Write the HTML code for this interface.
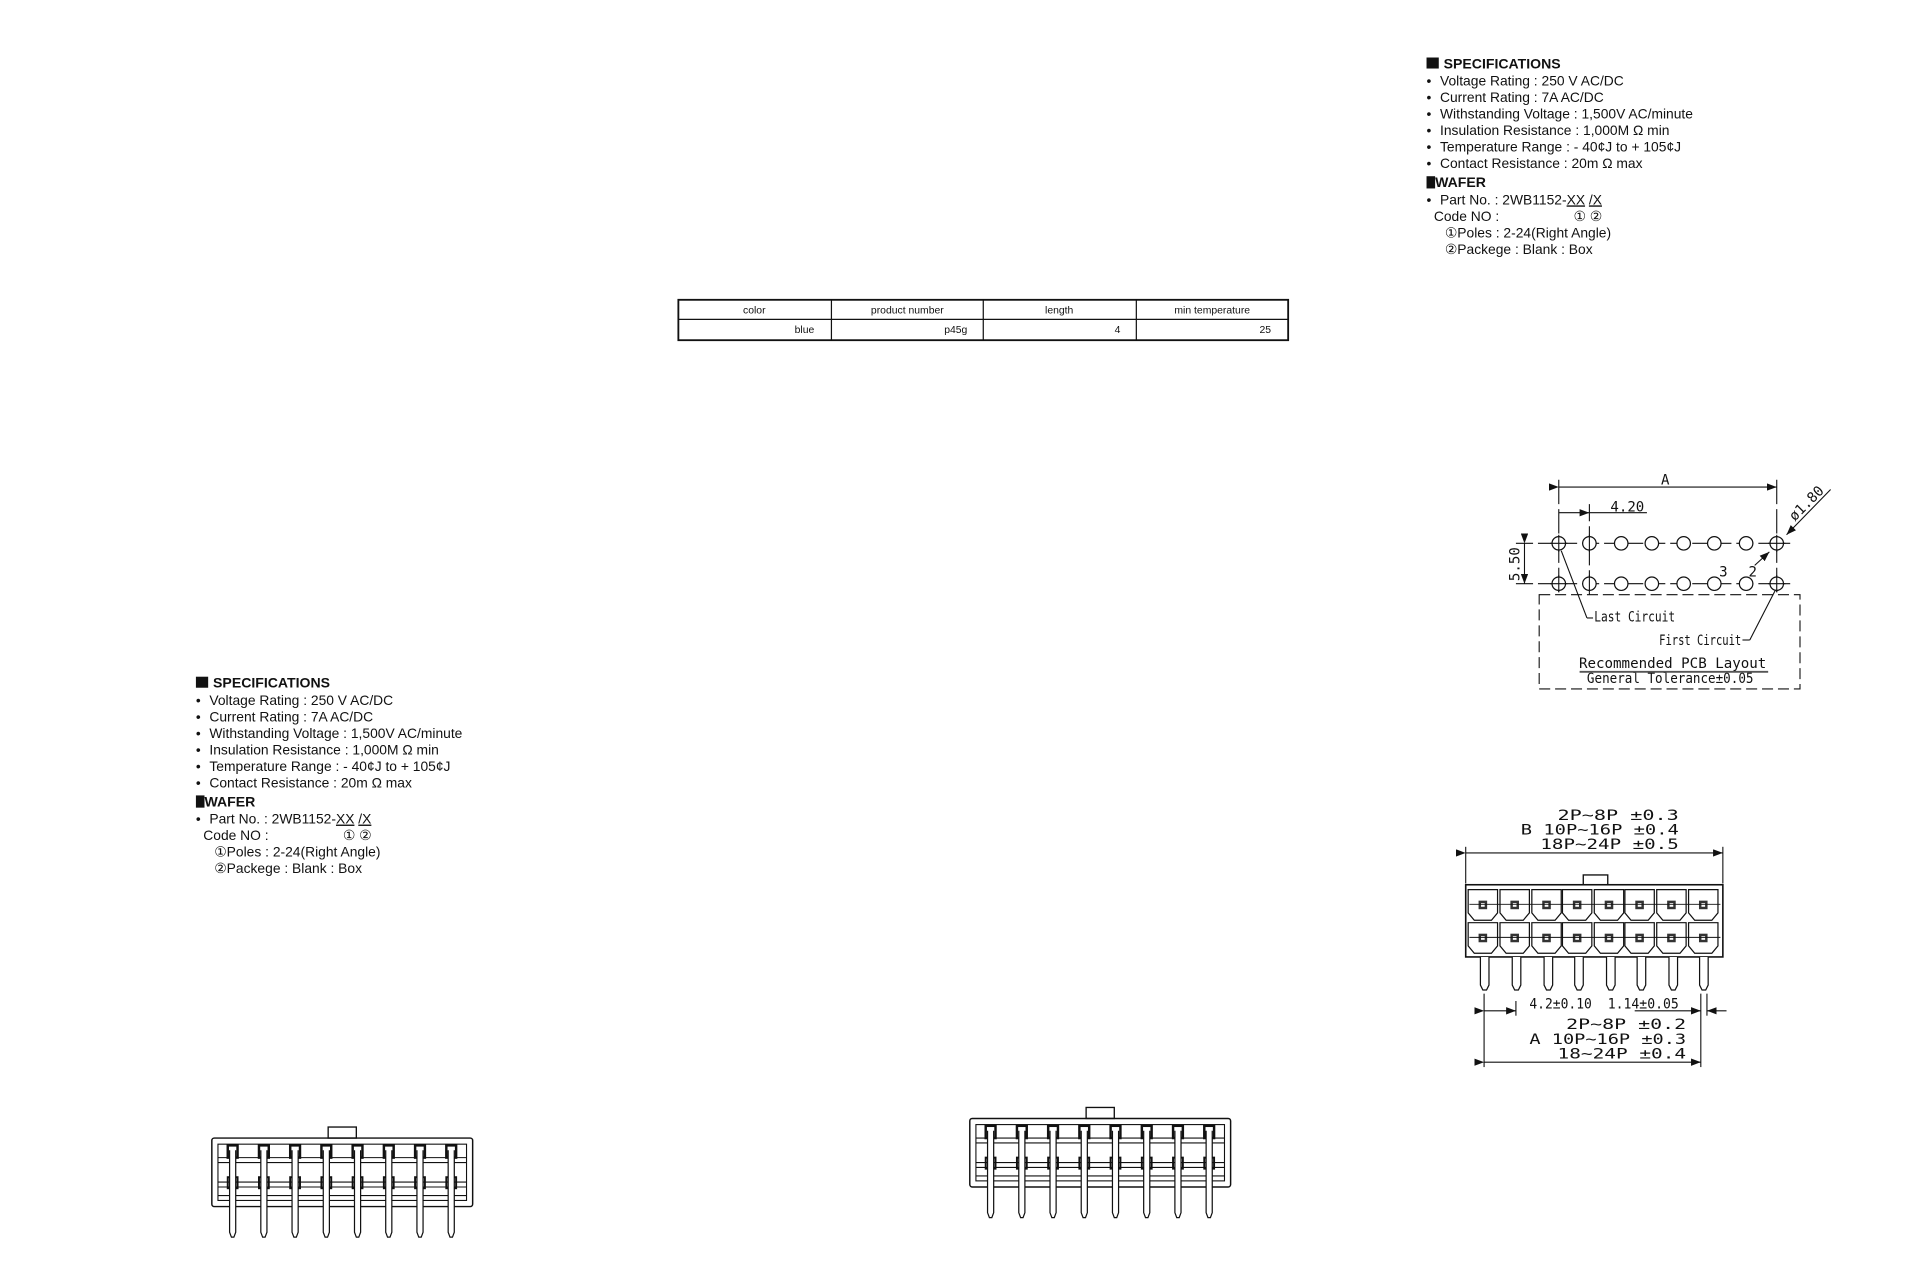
<!DOCTYPE html>
<html><head><meta charset="utf-8"><style>
html,body{margin:0;padding:0;background:#fff;}
svg{display:block;}
text{font-family:"Liberation Sans",sans-serif;fill:#111;}
.m{font-family:"DejaVu Sans Mono","Liberation Mono",monospace;}
</style></head><body>
<svg width="1920" height="1280" viewBox="0 0 1568 1046" preserveAspectRatio="none" xmlns="http://www.w3.org/2000/svg">
<defs>
<g id="spec">
<rect x="0" y="-9" width="10" height="9" fill="#111"/>
<text x="14" y="0" font-size="11.5" font-weight="bold">SPECIFICATIONS</text>
<g font-size="11.3">
<text x="0" y="14">•</text><text x="11" y="14">Voltage Rating : 250 V AC/DC</text>
<text x="0" y="27.5">•</text><text x="11" y="27.5">Current Rating : 7A AC/DC</text>
<text x="0" y="41">•</text><text x="11" y="41">Withstanding Voltage : 1,500V AC/minute</text>
<text x="0" y="54.5">•</text><text x="11" y="54.5">Insulation Resistance : 1,000M Ω  min</text>
<text x="0" y="68">•</text><text x="11" y="68">Temperature Range : - 40¢J to + 105¢J</text>
<text x="0" y="81.5">•</text><text x="11" y="81.5">Contact Resistance : 20m Ω  max</text>
</g>
<rect x="0" y="88" width="7" height="10" fill="#111"/>
<text x="7" y="97" font-size="11.5" font-weight="bold">WAFER</text>
<g font-size="11.3">
<text x="0" y="111">•</text><text x="11" y="111">Part No. : 2WB1152-<tspan text-decoration="underline">XX</tspan> <tspan text-decoration="underline">/X</tspan></text>
<text x="6" y="124.5">Code NO :</text>
<text x="120" y="124.5">① ②</text>
<text x="15" y="138">①Poles : 2-24(Right Angle)</text>
<text x="15" y="151.5">②Packege : Blank : Box</text>
</g>
</g>
<g id="side">
<rect x="0" y="0" width="213" height="56" rx="2" fill="none" stroke="#111" stroke-width="1.2"/>
<rect x="95" y="-9" width="23" height="9" fill="none" stroke="#111" stroke-width="1.1"/>
<g fill="none" stroke="#111" stroke-width="0.9">
<rect x="5" y="5" width="203" height="46"/>
<line x1="5" y1="16" x2="208" y2="16"/><line x1="5" y1="20" x2="208" y2="20"/>
<line x1="5" y1="36" x2="208" y2="36"/><line x1="5" y1="40" x2="208" y2="40"/>
<line x1="5" y1="47" x2="208" y2="47"/>
</g>
<g id="pinS">
<rect x="13" y="6" width="8" height="10" fill="none" stroke="#111" stroke-width="2"/>
<rect x="13" y="32" width="8" height="9" fill="none" stroke="#111" stroke-width="1.6"/>
<path d="M14.5 10 V77 L16 81 H18 L19.5 77 V10" fill="#fff" stroke="#111" stroke-width="1"/>
</g>
<use href="#pinS" x="25.5"/><use href="#pinS" x="51"/><use href="#pinS" x="76.5"/><use href="#pinS" x="102"/><use href="#pinS" x="127.5"/><use href="#pinS" x="153"/><use href="#pinS" x="178.5"/>
</g>
<g id="cell">
<path d="M0 0 H24 V19 L19 25 H5 L0 19 Z" fill="#fff" stroke="#111" stroke-width="1"/>
<rect x="8.5" y="9" width="7" height="7" fill="#333"/>
<rect x="10.5" y="11" width="3" height="3" fill="#fff"/>
</g>
<g id="hole"><circle r="5.5" fill="#fff" stroke="#111" stroke-width="1"/></g>
<marker id="ar" markerWidth="8" markerHeight="6" refX="8" refY="3" orient="auto" markerUnits="userSpaceOnUse"><path d="M0 0 L8 3 L0 6" fill="#111"/></marker>
</defs>

<use href="#spec" x="1165" y="56"/>
<use href="#spec" x="160" y="562"/>

<g>
<rect x="554" y="245" width="498" height="33" fill="none" stroke="#111" stroke-width="1.5"/>
<line x1="554" y1="261" x2="1052" y2="261" stroke="#111" stroke-width="1"/>
<line x1="679" y1="245" x2="679" y2="278" stroke="#111"/>
<line x1="803" y1="245" x2="803" y2="278" stroke="#111"/>
<line x1="928" y1="245" x2="928" y2="278" stroke="#111"/>
<g font-size="8.5" font-family="DejaVu Sans,sans-serif">
<text x="616" y="256" text-anchor="middle">color</text>
<text x="741" y="256" text-anchor="middle">product number</text>
<text x="865" y="256" text-anchor="middle">length</text>
<text x="990" y="256" text-anchor="middle">min temperature</text>
<text x="665" y="272" text-anchor="end">blue</text>
<text x="790" y="272" text-anchor="end">p45g</text>
<text x="915" y="272" text-anchor="end">4</text>
<text x="1038" y="272" text-anchor="end">25</text>
</g>
</g>

<g stroke="#111" stroke-width="0.9" fill="none">
<path d="M1257 486 H1470 V563 H1257 Z" stroke-dasharray="9,4"/>
<line x1="1238" y1="444" x2="1462" y2="444" stroke-dasharray="14,4"/>
<line x1="1238" y1="477" x2="1462" y2="477" stroke-dasharray="14,4"/>
<line x1="1273" y1="392" x2="1273" y2="486" stroke-dasharray="20,4"/>
<line x1="1298" y1="412" x2="1298" y2="486" stroke-dasharray="14,4"/>
<line x1="1451" y1="392" x2="1451" y2="486" stroke-dasharray="20,4"/>
<line x1="1273" y1="398" x2="1451" y2="398" marker-end="url(#ar)" marker-start="url(#ar)"/>
<line x1="1273" y1="419" x2="1298" y2="419" marker-end="url(#ar)"/>
<line x1="1298" y1="419" x2="1345" y2="419"/>
<line x1="1245" y1="444" x2="1245" y2="477" marker-start="url(#ar)" marker-end="url(#ar)"/>
<line x1="1275" y1="450" x2="1296" y2="505"/><line x1="1296" y1="505" x2="1301" y2="505"/>
<line x1="1423" y1="523" x2="1429" y2="523"/><line x1="1429" y1="523" x2="1450" y2="482"/>
<line x1="1495" y1="400" x2="1459" y2="437" marker-end="url(#ar)"/>
<line x1="1433" y1="462" x2="1445" y2="451" marker-end="url(#ar)"/>
</g>
<g>
<use href="#hole" x="1273" y="444"/><use href="#hole" x="1298" y="444"/><use href="#hole" x="1324" y="444"/><use href="#hole" x="1349" y="444"/><use href="#hole" x="1375" y="444"/><use href="#hole" x="1400" y="444"/><use href="#hole" x="1426" y="444"/><use href="#hole" x="1451" y="444"/>
<use href="#hole" x="1273" y="477"/><use href="#hole" x="1298" y="477"/><use href="#hole" x="1324" y="477"/><use href="#hole" x="1349" y="477"/><use href="#hole" x="1375" y="477"/><use href="#hole" x="1400" y="477"/><use href="#hole" x="1426" y="477"/><use href="#hole" x="1451" y="477"/>
</g>
<g stroke="#111" stroke-width="0.9">
<line x1="1266" y1="444" x2="1280" y2="444"/><line x1="1273" y1="437" x2="1273" y2="451"/>
<line x1="1273" y1="470" x2="1273" y2="484"/><line x1="1266" y1="477" x2="1280" y2="477"/>
<line x1="1298" y1="437" x2="1298" y2="451"/><line x1="1298" y1="470" x2="1298" y2="484"/>
<line x1="1444" y1="444" x2="1458" y2="444"/><line x1="1451" y1="437" x2="1451" y2="451"/>
<line x1="1444" y1="477" x2="1458" y2="477"/><line x1="1451" y1="470" x2="1451" y2="484"/>
</g>
<g font-size="11.5">
<text x="1360" y="396" text-anchor="middle" class="m">A</text>
<text x="1329" y="418" text-anchor="middle" class="m">4.20</text>
<text x="1241" y="461" text-anchor="middle" class="m" transform="rotate(-90 1241 461)">5.50</text>
<text x="1478" y="414" text-anchor="middle" class="m" transform="rotate(-45 1478 414)">ø1.80</text>
<text x="1404" y="471" class="m">3</text><text x="1428" y="471" class="m">2</text>
<text x="1302" y="508" class="m" textLength="66" lengthAdjust="spacingAndGlyphs">Last Circuit</text>
<text x="1355" y="527" class="m" textLength="67" lengthAdjust="spacingAndGlyphs">First Circuit</text>
<text x="1366" y="546" text-anchor="middle" class="m" textLength="153" lengthAdjust="spacingAndGlyphs">Recommended PCB Layout</text>
<text x="1364" y="558" text-anchor="middle" class="m" textLength="136" lengthAdjust="spacingAndGlyphs">General Tolerance±0.05</text>
</g>
<line x1="1290" y1="549" x2="1444" y2="549" stroke="#555" stroke-width="1.5"/>

<g font-size="11.5">
<text x="1272" y="670" class="m" textLength="99" lengthAdjust="spacingAndGlyphs">2P~8P  ±0.3</text>
<text x="1242" y="682" class="m" textLength="129" lengthAdjust="spacingAndGlyphs">B 10P~16P  ±0.4</text>
<text x="1258" y="694" class="m" textLength="113" lengthAdjust="spacingAndGlyphs">18P~24P  ±0.5</text>
<text x="1249" y="824" class="m" textLength="51" lengthAdjust="spacingAndGlyphs">4.2±0.10</text>
<text x="1313" y="824" class="m" textLength="58" lengthAdjust="spacingAndGlyphs">1.14±0.05</text>
<text x="1279" y="841" class="m" textLength="98" lengthAdjust="spacingAndGlyphs">2P~8P  ±0.2</text>
<text x="1249" y="853" class="m" textLength="128" lengthAdjust="spacingAndGlyphs">A 10P~16P  ±0.3</text>
<text x="1272" y="865" class="m" textLength="105" lengthAdjust="spacingAndGlyphs">18~24P  ±0.4</text>
</g>
<g stroke="#111" stroke-width="0.9" fill="none">
<line x1="1197" y1="697" x2="1407" y2="697" marker-start="url(#ar)" marker-end="url(#ar)"/>
<line x1="1197" y1="692" x2="1197" y2="722"/><line x1="1407" y1="692" x2="1407" y2="722"/>
<line x1="1212" y1="812" x2="1212" y2="872"/><line x1="1389" y1="812" x2="1389" y2="872"/><line x1="1394" y1="812" x2="1394" y2="830"/>
<line x1="1212" y1="826" x2="1238" y2="826" marker-start="url(#ar)" marker-end="url(#ar)"/>
<line x1="1238" y1="818" x2="1238" y2="830"/>
<line x1="1335" y1="826" x2="1389" y2="826" marker-end="url(#ar)"/>
<line x1="1410" y1="826" x2="1394" y2="826" marker-end="url(#ar)"/>
<line x1="1212" y1="868" x2="1389" y2="868" marker-start="url(#ar)" marker-end="url(#ar)"/>
</g>
<rect x="1293" y="715" width="20" height="8" fill="#fff" stroke="#111" stroke-width="1.1"/>
<rect x="1197" y="723" width="210" height="59" fill="#fff" stroke="#111" stroke-width="1.3"/>
<g>
<use href="#cell" x="1199" y="727"/><use href="#cell" x="1225" y="727"/><use href="#cell" x="1251" y="727"/><use href="#cell" x="1276" y="727"/><use href="#cell" x="1302" y="727"/><use href="#cell" x="1327" y="727"/><use href="#cell" x="1353" y="727"/><use href="#cell" x="1379" y="727"/>
<use href="#cell" x="1199" y="754"/><use href="#cell" x="1225" y="754"/><use href="#cell" x="1251" y="754"/><use href="#cell" x="1276" y="754"/><use href="#cell" x="1302" y="754"/><use href="#cell" x="1327" y="754"/><use href="#cell" x="1353" y="754"/><use href="#cell" x="1379" y="754"/>
</g>
<g stroke="#111" stroke-width="0.8">
<line x1="1200" y1="739" x2="1405" y2="739"/><line x1="1200" y1="766" x2="1405" y2="766"/>
</g>
<g fill="#fff" stroke="#111" stroke-width="1">
<path d="M1209 782 V805 L1211 809 H1214 L1216 805 V782"/>
<path d="M1235 782 V805 L1237 809 H1240 L1242 805 V782"/>
<path d="M1261 782 V805 L1263 809 H1266 L1268 805 V782"/>
<path d="M1286 782 V805 L1288 809 H1291 L1293 805 V782"/>
<path d="M1312 782 V805 L1314 809 H1317 L1319 805 V782"/>
<path d="M1337 782 V805 L1339 809 H1342 L1344 805 V782"/>
<path d="M1363 782 V805 L1365 809 H1368 L1370 805 V782"/>
<path d="M1388 782 V805 L1390 809 H1393 L1395 805 V782"/>
</g>

<use href="#side" x="173" y="930"/>
<use href="#side" x="792" y="914"/>
</svg>
</body></html>
